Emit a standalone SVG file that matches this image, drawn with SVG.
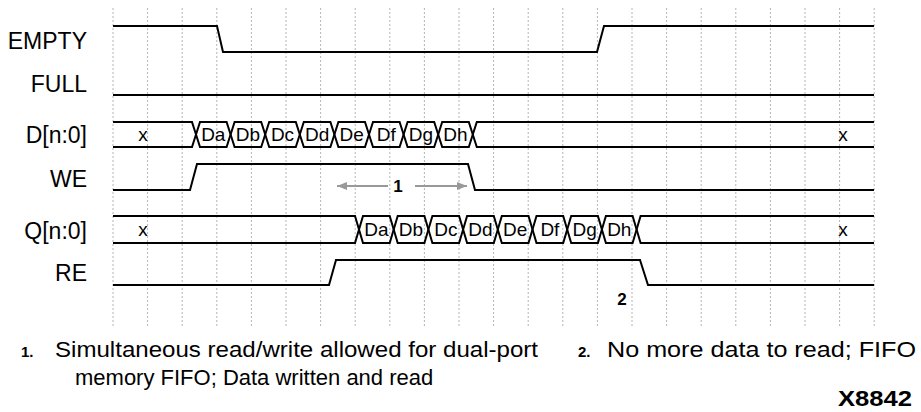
<svg xmlns="http://www.w3.org/2000/svg" width="921" height="412" viewBox="0 0 921 412">
<style>
.grid{stroke:#b4b4b4;stroke-width:1;stroke-dasharray:2,2}
.sig{fill:none;stroke:#000;stroke-width:2;stroke-linejoin:miter}
.lbl{font-family:"Liberation Sans",Arial,sans-serif;font-size:23px;fill:#000;text-anchor:end}
.bus{font-family:"Liberation Sans",Arial,sans-serif;font-size:19px;fill:#000;text-anchor:middle}
.num{font-family:"Liberation Sans",Arial,sans-serif;font-size:17px;font-weight:bold;fill:#000;text-anchor:middle}
.note{font-family:"Liberation Sans",Arial,sans-serif;font-size:22px;fill:#000}
.nb{font-family:"Liberation Sans",Arial,sans-serif;font-size:15px;font-weight:bold;fill:#000}
.arr{stroke:#999;stroke-width:2;fill:none}
</style>
<defs>
<marker id="ah" viewBox="0 0 10 8" refX="10" refY="4" markerWidth="10" markerHeight="8" markerUnits="userSpaceOnUse" orient="auto">
<path d="M0,0 L10,4 L0,8 Z" fill="#999"/>
</marker>
</defs>
<g id="grid">
<line class="grid" x1="113" y1="8" x2="113" y2="328"/>
<line class="grid" x1="147.6" y1="8" x2="147.6" y2="328"/>
<line class="grid" x1="182.2" y1="8" x2="182.2" y2="328"/>
<line class="grid" x1="216.8" y1="8" x2="216.8" y2="328"/>
<line class="grid" x1="251.4" y1="8" x2="251.4" y2="328"/>
<line class="grid" x1="286" y1="8" x2="286" y2="328"/>
<line class="grid" x1="320.6" y1="8" x2="320.6" y2="328"/>
<line class="grid" x1="355.2" y1="8" x2="355.2" y2="328"/>
<line class="grid" x1="389.8" y1="8" x2="389.8" y2="328"/>
<line class="grid" x1="424.4" y1="8" x2="424.4" y2="328"/>
<line class="grid" x1="459" y1="8" x2="459" y2="328"/>
<line class="grid" x1="493.6" y1="8" x2="493.6" y2="328"/>
<line class="grid" x1="528.2" y1="8" x2="528.2" y2="328"/>
<line class="grid" x1="562.8" y1="8" x2="562.8" y2="328"/>
<line class="grid" x1="597.4" y1="8" x2="597.4" y2="328"/>
<line class="grid" x1="632" y1="8" x2="632" y2="328"/>
<line class="grid" x1="666.6" y1="8" x2="666.6" y2="328"/>
<line class="grid" x1="701.2" y1="8" x2="701.2" y2="328"/>
<line class="grid" x1="735.8" y1="8" x2="735.8" y2="328"/>
<line class="grid" x1="770.4" y1="8" x2="770.4" y2="328"/>
<line class="grid" x1="805" y1="8" x2="805" y2="328"/>
<line class="grid" x1="839.6" y1="8" x2="839.6" y2="328"/>
<line class="grid" x1="874.2" y1="8" x2="874.2" y2="328"/>
</g>
<g id="empty">
<text class="lbl" x="87" y="49">EMPTY</text>
<path class="sig" d="M113,26 H217 L223,52 H597 L604,26 H874"/>
</g>
<g id="full">
<text class="lbl" x="87" y="92">FULL</text>
<path class="sig" d="M113,95 H874"/>
</g>
<g id="d-bus">
<text class="lbl" x="87" y="143">D[n:0]</text>
<path class="sig" d="M113,122 H192 L196,134.5 L192,147 H113"/>
<path class="sig" d="M196,134.5 L200,122 H226.6 L230.6,134.5 L226.6,147 H200 Z"/>
<path class="sig" d="M230.6,134.5 L234.6,122 H261.2 L265.2,134.5 L261.2,147 H234.6 Z"/>
<path class="sig" d="M265.2,134.5 L269.2,122 H295.8 L299.8,134.5 L295.8,147 H269.2 Z"/>
<path class="sig" d="M299.8,134.5 L303.8,122 H330.4 L334.4,134.5 L330.4,147 H303.8 Z"/>
<path class="sig" d="M334.4,134.5 L338.4,122 H365 L369,134.5 L365,147 H338.4 Z"/>
<path class="sig" d="M369,134.5 L373,122 H399.6 L403.6,134.5 L399.6,147 H373 Z"/>
<path class="sig" d="M403.6,134.5 L407.6,122 H434.2 L438.2,134.5 L434.2,147 H407.6 Z"/>
<path class="sig" d="M438.2,134.5 L442.2,122 H468.8 L472.8,134.5 L468.8,147 H442.2 Z"/>
<path class="sig" d="M874,122 H476.8 L472.8,134.5 L476.8,147 H874"/>
<text class="bus" x="143" y="141">x</text>
<text class="bus" x="213.3" y="141">Da</text>
<text class="bus" x="247.9" y="141">Db</text>
<text class="bus" x="282.5" y="141">Dc</text>
<text class="bus" x="317.1" y="141">Dd</text>
<text class="bus" x="351.7" y="141">De</text>
<text class="bus" x="386.3" y="141">Df</text>
<text class="bus" x="420.9" y="141">Dg</text>
<text class="bus" x="455.5" y="141">Dh</text>
<text class="bus" x="843" y="141">x</text>
</g>
<g id="we">
<text class="lbl" x="87" y="187">WE</text>
<path class="sig" d="M113,190 H190 L197,164 H468 L475,190 H874"/>
</g>
<g id="q-bus">
<text class="lbl" x="87" y="239">Q[n:0]</text>
<path class="sig" d="M113,216 H355 L359,229.5 L355,243 H113"/>
<path class="sig" d="M359,229.5 L363,216 H389.7 L393.7,229.5 L389.7,243 H363 Z"/>
<path class="sig" d="M393.7,229.5 L397.7,216 H424.4 L428.4,229.5 L424.4,243 H397.7 Z"/>
<path class="sig" d="M428.4,229.5 L432.4,216 H459.1 L463.1,229.5 L459.1,243 H432.4 Z"/>
<path class="sig" d="M463.1,229.5 L467.1,216 H493.8 L497.8,229.5 L493.8,243 H467.1 Z"/>
<path class="sig" d="M497.8,229.5 L501.8,216 H528.5 L532.5,229.5 L528.5,243 H501.8 Z"/>
<path class="sig" d="M532.5,229.5 L536.5,216 H563.2 L567.2,229.5 L563.2,243 H536.5 Z"/>
<path class="sig" d="M567.2,229.5 L571.2,216 H597.9 L601.9,229.5 L597.9,243 H571.2 Z"/>
<path class="sig" d="M601.9,229.5 L605.9,216 H632.6 L636.6,229.5 L632.6,243 H605.9 Z"/>
<path class="sig" d="M874,216 H640.6 L636.6,229.5 L640.6,243 H874"/>
<text class="bus" x="143" y="236">x</text>
<text class="bus" x="376.4" y="236">Da</text>
<text class="bus" x="411" y="236">Db</text>
<text class="bus" x="445.8" y="236">Dc</text>
<text class="bus" x="480.5" y="236">Dd</text>
<text class="bus" x="515.2" y="236">De</text>
<text class="bus" x="549.9" y="236">Df</text>
<text class="bus" x="584.6" y="236">Dg</text>
<text class="bus" x="619.3" y="236">Dh</text>
<text class="bus" x="843" y="236">x</text>
</g>
<g id="re">
<text class="lbl" x="87" y="281">RE</text>
<path class="sig" d="M113,285 H329 L336,260 H640 L648,285 H874"/>
</g>
<g id="connectors">
<line class="arr" x1="388" y1="186" x2="337" y2="186" marker-end="url(#ah)"/>
<line class="arr" x1="415" y1="186" x2="467" y2="186" marker-end="url(#ah)"/>
</g>
<g id="callouts">
<text class="num" x="398" y="192">1</text>
<text class="num" x="622" y="305">2</text>
</g>
<g id="notes">
<text class="nb" x="21" y="357">1.</text>
<text class="note" x="55" y="357" textLength="483" lengthAdjust="spacingAndGlyphs">Simultaneous read/write allowed for dual-port</text>
<text class="note" x="75" y="385">memory FIFO; Data written and read</text>
<text class="nb" x="578" y="357">2.</text>
<text class="note" x="607" y="357" textLength="309" lengthAdjust="spacingAndGlyphs">No more data to read; FIFO</text>
<text class="note" x="912" y="406" font-weight="bold" text-anchor="end" textLength="74" lengthAdjust="spacingAndGlyphs">X8842</text>
</g>
</svg>
